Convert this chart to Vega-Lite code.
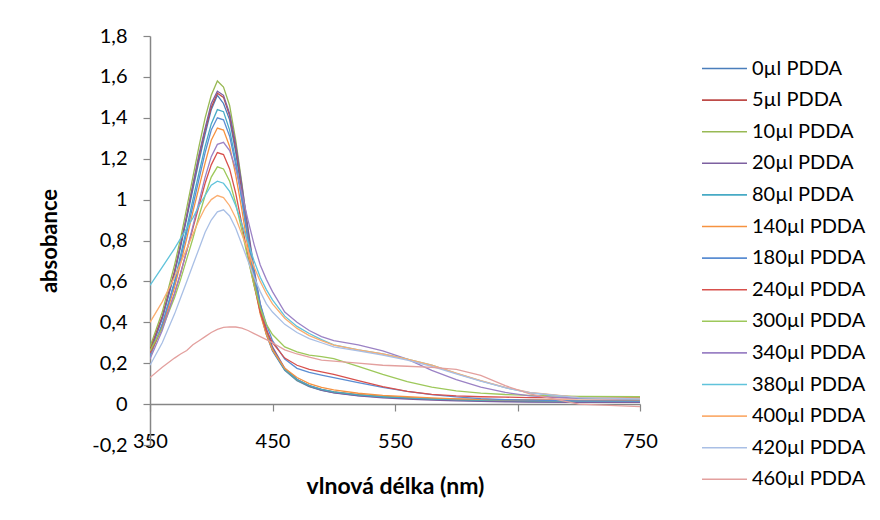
{
  "$schema": "https://vega.github.io/schema/vega-lite/v6.json",
  "width": 490,
  "height": 409,
  "autosize": {"type": "none"},
  "padding": {"left": 150, "top": 36, "right": 240, "bottom": 75},
  "background": "white",
  "config": {
    "font": "Lato",
    "view": {"stroke": null},
    "axis": {"grid": false, "domainColor": "#868686", "tickColor": "#868686", "domainWidth": 1.5, "tickWidth": 1.2, "labelColor": "#000000", "titleColor": "#000000", "labelFont": "Lato", "titleFont": "Lato"}
  },
  "data": {"values": [
{"s":"0µl PDDA","w":350,"a":0.26},{"s":"0µl PDDA","w":360,"a":0.42},{"s":"0µl PDDA","w":370,"a":0.64},{"s":"0µl PDDA","w":375,"a":0.77},{"s":"0µl PDDA","w":380,"a":0.91},{"s":"0µl PDDA","w":385,"a":1.05},{"s":"0µl PDDA","w":390,"a":1.19},{"s":"0µl PDDA","w":395,"a":1.32},{"s":"0µl PDDA","w":400,"a":1.44},{"s":"0µl PDDA","w":405,"a":1.51},{"s":"0µl PDDA","w":410,"a":1.47},{"s":"0µl PDDA","w":415,"a":1.39},{"s":"0µl PDDA","w":420,"a":1.23},{"s":"0µl PDDA","w":425,"a":1.03},{"s":"0µl PDDA","w":430,"a":0.81},{"s":"0µl PDDA","w":435,"a":0.61},{"s":"0µl PDDA","w":440,"a":0.45},{"s":"0µl PDDA","w":445,"a":0.34},{"s":"0µl PDDA","w":450,"a":0.26},{"s":"0µl PDDA","w":460,"a":0.165},{"s":"0µl PDDA","w":470,"a":0.115},{"s":"0µl PDDA","w":480,"a":0.085},{"s":"0µl PDDA","w":490,"a":0.067},{"s":"0µl PDDA","w":500,"a":0.056},{"s":"0µl PDDA","w":520,"a":0.042},{"s":"0µl PDDA","w":540,"a":0.034},{"s":"0µl PDDA","w":560,"a":0.028},{"s":"0µl PDDA","w":580,"a":0.023},{"s":"0µl PDDA","w":600,"a":0.019},{"s":"0µl PDDA","w":620,"a":0.016},{"s":"0µl PDDA","w":640,"a":0.014},{"s":"0µl PDDA","w":660,"a":0.012},{"s":"0µl PDDA","w":700,"a":0.01},{"s":"0µl PDDA","w":750,"a":0.01},
{"s":"5µl PDDA","w":350,"a":0.27},{"s":"5µl PDDA","w":360,"a":0.43},{"s":"5µl PDDA","w":370,"a":0.65},{"s":"5µl PDDA","w":375,"a":0.78},{"s":"5µl PDDA","w":380,"a":0.92},{"s":"5µl PDDA","w":385,"a":1.07},{"s":"5µl PDDA","w":390,"a":1.21},{"s":"5µl PDDA","w":395,"a":1.34},{"s":"5µl PDDA","w":400,"a":1.45},{"s":"5µl PDDA","w":405,"a":1.52},{"s":"5µl PDDA","w":410,"a":1.5},{"s":"5µl PDDA","w":415,"a":1.41},{"s":"5µl PDDA","w":420,"a":1.25},{"s":"5µl PDDA","w":425,"a":1.05},{"s":"5µl PDDA","w":430,"a":0.83},{"s":"5µl PDDA","w":435,"a":0.63},{"s":"5µl PDDA","w":440,"a":0.46},{"s":"5µl PDDA","w":445,"a":0.35},{"s":"5µl PDDA","w":450,"a":0.27},{"s":"5µl PDDA","w":460,"a":0.17},{"s":"5µl PDDA","w":470,"a":0.12},{"s":"5µl PDDA","w":480,"a":0.09},{"s":"5µl PDDA","w":490,"a":0.072},{"s":"5µl PDDA","w":500,"a":0.06},{"s":"5µl PDDA","w":520,"a":0.046},{"s":"5µl PDDA","w":540,"a":0.038},{"s":"5µl PDDA","w":560,"a":0.032},{"s":"5µl PDDA","w":580,"a":0.027},{"s":"5µl PDDA","w":600,"a":0.024},{"s":"5µl PDDA","w":620,"a":0.022},{"s":"5µl PDDA","w":640,"a":0.02},{"s":"5µl PDDA","w":660,"a":0.019},{"s":"5µl PDDA","w":700,"a":0.018},{"s":"5µl PDDA","w":750,"a":0.018},
{"s":"10µl PDDA","w":350,"a":0.28},{"s":"10µl PDDA","w":360,"a":0.45},{"s":"10µl PDDA","w":370,"a":0.68},{"s":"10µl PDDA","w":375,"a":0.81},{"s":"10µl PDDA","w":380,"a":0.96},{"s":"10µl PDDA","w":385,"a":1.11},{"s":"10µl PDDA","w":390,"a":1.26},{"s":"10µl PDDA","w":395,"a":1.4},{"s":"10µl PDDA","w":400,"a":1.51},{"s":"10µl PDDA","w":405,"a":1.58},{"s":"10µl PDDA","w":410,"a":1.55},{"s":"10µl PDDA","w":415,"a":1.46},{"s":"10µl PDDA","w":420,"a":1.29},{"s":"10µl PDDA","w":425,"a":1.08},{"s":"10µl PDDA","w":430,"a":0.85},{"s":"10µl PDDA","w":435,"a":0.64},{"s":"10µl PDDA","w":440,"a":0.47},{"s":"10µl PDDA","w":445,"a":0.355},{"s":"10µl PDDA","w":450,"a":0.27},{"s":"10µl PDDA","w":460,"a":0.17},{"s":"10µl PDDA","w":470,"a":0.118},{"s":"10µl PDDA","w":480,"a":0.088},{"s":"10µl PDDA","w":490,"a":0.07},{"s":"10µl PDDA","w":500,"a":0.058},{"s":"10µl PDDA","w":520,"a":0.044},{"s":"10µl PDDA","w":540,"a":0.036},{"s":"10µl PDDA","w":560,"a":0.03},{"s":"10µl PDDA","w":580,"a":0.025},{"s":"10µl PDDA","w":600,"a":0.022},{"s":"10µl PDDA","w":620,"a":0.019},{"s":"10µl PDDA","w":640,"a":0.017},{"s":"10µl PDDA","w":660,"a":0.016},{"s":"10µl PDDA","w":700,"a":0.015},{"s":"10µl PDDA","w":750,"a":0.015},
{"s":"20µl PDDA","w":350,"a":0.25},{"s":"20µl PDDA","w":360,"a":0.42},{"s":"20µl PDDA","w":370,"a":0.64},{"s":"20µl PDDA","w":375,"a":0.78},{"s":"20µl PDDA","w":380,"a":0.92},{"s":"20µl PDDA","w":385,"a":1.07},{"s":"20µl PDDA","w":390,"a":1.22},{"s":"20µl PDDA","w":395,"a":1.35},{"s":"20µl PDDA","w":400,"a":1.47},{"s":"20µl PDDA","w":405,"a":1.53},{"s":"20µl PDDA","w":410,"a":1.51},{"s":"20µl PDDA","w":415,"a":1.42},{"s":"20µl PDDA","w":420,"a":1.27},{"s":"20µl PDDA","w":425,"a":1.07},{"s":"20µl PDDA","w":430,"a":0.86},{"s":"20µl PDDA","w":435,"a":0.66},{"s":"20µl PDDA","w":440,"a":0.49},{"s":"20µl PDDA","w":445,"a":0.37},{"s":"20µl PDDA","w":450,"a":0.28},{"s":"20µl PDDA","w":460,"a":0.175},{"s":"20µl PDDA","w":470,"a":0.12},{"s":"20µl PDDA","w":480,"a":0.088},{"s":"20µl PDDA","w":490,"a":0.068},{"s":"20µl PDDA","w":500,"a":0.055},{"s":"20µl PDDA","w":520,"a":0.04},{"s":"20µl PDDA","w":540,"a":0.031},{"s":"20µl PDDA","w":560,"a":0.025},{"s":"20µl PDDA","w":580,"a":0.02},{"s":"20µl PDDA","w":600,"a":0.016},{"s":"20µl PDDA","w":620,"a":0.013},{"s":"20µl PDDA","w":640,"a":0.011},{"s":"20µl PDDA","w":660,"a":0.01},{"s":"20µl PDDA","w":700,"a":0.008},{"s":"20µl PDDA","w":750,"a":0.008},
{"s":"80µl PDDA","w":350,"a":0.23},{"s":"80µl PDDA","w":360,"a":0.39},{"s":"80µl PDDA","w":370,"a":0.6},{"s":"80µl PDDA","w":375,"a":0.73},{"s":"80µl PDDA","w":380,"a":0.86},{"s":"80µl PDDA","w":385,"a":1.0},{"s":"80µl PDDA","w":390,"a":1.13},{"s":"80µl PDDA","w":395,"a":1.26},{"s":"80µl PDDA","w":400,"a":1.37},{"s":"80µl PDDA","w":405,"a":1.44},{"s":"80µl PDDA","w":410,"a":1.43},{"s":"80µl PDDA","w":415,"a":1.34},{"s":"80µl PDDA","w":420,"a":1.19},{"s":"80µl PDDA","w":425,"a":1.0},{"s":"80µl PDDA","w":430,"a":0.8},{"s":"80µl PDDA","w":435,"a":0.61},{"s":"80µl PDDA","w":440,"a":0.45},{"s":"80µl PDDA","w":445,"a":0.345},{"s":"80µl PDDA","w":450,"a":0.265},{"s":"80µl PDDA","w":460,"a":0.17},{"s":"80µl PDDA","w":470,"a":0.12},{"s":"80µl PDDA","w":480,"a":0.09},{"s":"80µl PDDA","w":490,"a":0.072},{"s":"80µl PDDA","w":500,"a":0.06},{"s":"80µl PDDA","w":520,"a":0.045},{"s":"80µl PDDA","w":540,"a":0.036},{"s":"80µl PDDA","w":560,"a":0.03},{"s":"80µl PDDA","w":580,"a":0.025},{"s":"80µl PDDA","w":600,"a":0.022},{"s":"80µl PDDA","w":620,"a":0.02},{"s":"80µl PDDA","w":640,"a":0.018},{"s":"80µl PDDA","w":660,"a":0.017},{"s":"80µl PDDA","w":700,"a":0.016},{"s":"80µl PDDA","w":750,"a":0.016},
{"s":"140µl PDDA","w":350,"a":0.24},{"s":"140µl PDDA","w":360,"a":0.38},{"s":"140µl PDDA","w":370,"a":0.57},{"s":"140µl PDDA","w":375,"a":0.69},{"s":"140µl PDDA","w":380,"a":0.81},{"s":"140µl PDDA","w":385,"a":0.94},{"s":"140µl PDDA","w":390,"a":1.06},{"s":"140µl PDDA","w":395,"a":1.18},{"s":"140µl PDDA","w":400,"a":1.29},{"s":"140µl PDDA","w":405,"a":1.35},{"s":"140µl PDDA","w":410,"a":1.34},{"s":"140µl PDDA","w":415,"a":1.26},{"s":"140µl PDDA","w":420,"a":1.12},{"s":"140µl PDDA","w":425,"a":0.95},{"s":"140µl PDDA","w":430,"a":0.76},{"s":"140µl PDDA","w":435,"a":0.59},{"s":"140µl PDDA","w":440,"a":0.44},{"s":"140µl PDDA","w":445,"a":0.34},{"s":"140µl PDDA","w":450,"a":0.265},{"s":"140µl PDDA","w":460,"a":0.175},{"s":"140µl PDDA","w":470,"a":0.13},{"s":"140µl PDDA","w":480,"a":0.1},{"s":"140µl PDDA","w":490,"a":0.082},{"s":"140µl PDDA","w":500,"a":0.07},{"s":"140µl PDDA","w":520,"a":0.053},{"s":"140µl PDDA","w":540,"a":0.043},{"s":"140µl PDDA","w":560,"a":0.036},{"s":"140µl PDDA","w":580,"a":0.03},{"s":"140µl PDDA","w":600,"a":0.026},{"s":"140µl PDDA","w":620,"a":0.023},{"s":"140µl PDDA","w":640,"a":0.021},{"s":"140µl PDDA","w":660,"a":0.02},{"s":"140µl PDDA","w":700,"a":0.018},{"s":"140µl PDDA","w":750,"a":0.018},
{"s":"180µl PDDA","w":350,"a":0.24},{"s":"180µl PDDA","w":360,"a":0.39},{"s":"180µl PDDA","w":370,"a":0.59},{"s":"180µl PDDA","w":375,"a":0.71},{"s":"180µl PDDA","w":380,"a":0.84},{"s":"180µl PDDA","w":385,"a":0.97},{"s":"180µl PDDA","w":390,"a":1.1},{"s":"180µl PDDA","w":395,"a":1.23},{"s":"180µl PDDA","w":400,"a":1.34},{"s":"180µl PDDA","w":405,"a":1.4},{"s":"180µl PDDA","w":410,"a":1.39},{"s":"180µl PDDA","w":415,"a":1.31},{"s":"180µl PDDA","w":420,"a":1.17},{"s":"180µl PDDA","w":425,"a":1.0},{"s":"180µl PDDA","w":430,"a":0.81},{"s":"180µl PDDA","w":435,"a":0.64},{"s":"180µl PDDA","w":440,"a":0.49},{"s":"180µl PDDA","w":445,"a":0.39},{"s":"180µl PDDA","w":450,"a":0.31},{"s":"180µl PDDA","w":460,"a":0.22},{"s":"180µl PDDA","w":470,"a":0.175},{"s":"180µl PDDA","w":480,"a":0.155},{"s":"180µl PDDA","w":490,"a":0.142},{"s":"180µl PDDA","w":500,"a":0.13},{"s":"180µl PDDA","w":520,"a":0.105},{"s":"180µl PDDA","w":540,"a":0.082},{"s":"180µl PDDA","w":560,"a":0.062},{"s":"180µl PDDA","w":580,"a":0.046},{"s":"180µl PDDA","w":600,"a":0.035},{"s":"180µl PDDA","w":620,"a":0.027},{"s":"180µl PDDA","w":640,"a":0.022},{"s":"180µl PDDA","w":660,"a":0.019},{"s":"180µl PDDA","w":700,"a":0.016},{"s":"180µl PDDA","w":750,"a":0.015},
{"s":"240µl PDDA","w":350,"a":0.25},{"s":"240µl PDDA","w":360,"a":0.37},{"s":"240µl PDDA","w":370,"a":0.54},{"s":"240µl PDDA","w":375,"a":0.64},{"s":"240µl PDDA","w":380,"a":0.75},{"s":"240µl PDDA","w":385,"a":0.86},{"s":"240µl PDDA","w":390,"a":0.97},{"s":"240µl PDDA","w":395,"a":1.08},{"s":"240µl PDDA","w":400,"a":1.17},{"s":"240µl PDDA","w":405,"a":1.23},{"s":"240µl PDDA","w":410,"a":1.22},{"s":"240µl PDDA","w":415,"a":1.15},{"s":"240µl PDDA","w":420,"a":1.03},{"s":"240µl PDDA","w":425,"a":0.88},{"s":"240µl PDDA","w":430,"a":0.72},{"s":"240µl PDDA","w":435,"a":0.58},{"s":"240µl PDDA","w":440,"a":0.45},{"s":"240µl PDDA","w":445,"a":0.36},{"s":"240µl PDDA","w":450,"a":0.3},{"s":"240µl PDDA","w":460,"a":0.225},{"s":"240µl PDDA","w":470,"a":0.19},{"s":"240µl PDDA","w":480,"a":0.17},{"s":"240µl PDDA","w":490,"a":0.158},{"s":"240µl PDDA","w":500,"a":0.145},{"s":"240µl PDDA","w":520,"a":0.115},{"s":"240µl PDDA","w":540,"a":0.085},{"s":"240µl PDDA","w":560,"a":0.062},{"s":"240µl PDDA","w":580,"a":0.048},{"s":"240µl PDDA","w":600,"a":0.04},{"s":"240µl PDDA","w":620,"a":0.036},{"s":"240µl PDDA","w":640,"a":0.034},{"s":"240µl PDDA","w":660,"a":0.032},{"s":"240µl PDDA","w":700,"a":0.03},{"s":"240µl PDDA","w":750,"a":0.03},
{"s":"300µl PDDA","w":350,"a":0.26},{"s":"300µl PDDA","w":360,"a":0.37},{"s":"300µl PDDA","w":370,"a":0.52},{"s":"300µl PDDA","w":375,"a":0.61},{"s":"300µl PDDA","w":380,"a":0.71},{"s":"300µl PDDA","w":385,"a":0.81},{"s":"300µl PDDA","w":390,"a":0.92},{"s":"300µl PDDA","w":395,"a":1.02},{"s":"300µl PDDA","w":400,"a":1.11},{"s":"300µl PDDA","w":405,"a":1.16},{"s":"300µl PDDA","w":410,"a":1.15},{"s":"300µl PDDA","w":415,"a":1.09},{"s":"300µl PDDA","w":420,"a":0.98},{"s":"300µl PDDA","w":425,"a":0.85},{"s":"300µl PDDA","w":430,"a":0.71},{"s":"300µl PDDA","w":435,"a":0.58},{"s":"300µl PDDA","w":440,"a":0.47},{"s":"300µl PDDA","w":445,"a":0.39},{"s":"300µl PDDA","w":450,"a":0.34},{"s":"300µl PDDA","w":460,"a":0.28},{"s":"300µl PDDA","w":470,"a":0.255},{"s":"300µl PDDA","w":480,"a":0.24},{"s":"300µl PDDA","w":490,"a":0.232},{"s":"300µl PDDA","w":500,"a":0.222},{"s":"300µl PDDA","w":520,"a":0.185},{"s":"300µl PDDA","w":540,"a":0.145},{"s":"300µl PDDA","w":560,"a":0.11},{"s":"300µl PDDA","w":580,"a":0.083},{"s":"300µl PDDA","w":600,"a":0.065},{"s":"300µl PDDA","w":620,"a":0.054},{"s":"300µl PDDA","w":640,"a":0.047},{"s":"300µl PDDA","w":660,"a":0.043},{"s":"300µl PDDA","w":700,"a":0.038},{"s":"300µl PDDA","w":750,"a":0.036},
{"s":"340µl PDDA","w":350,"a":0.22},{"s":"340µl PDDA","w":360,"a":0.36},{"s":"340µl PDDA","w":370,"a":0.54},{"s":"340µl PDDA","w":375,"a":0.64},{"s":"340µl PDDA","w":380,"a":0.75},{"s":"340µl PDDA","w":385,"a":0.87},{"s":"340µl PDDA","w":390,"a":0.99},{"s":"340µl PDDA","w":395,"a":1.11},{"s":"340µl PDDA","w":400,"a":1.21},{"s":"340µl PDDA","w":405,"a":1.27},{"s":"340µl PDDA","w":410,"a":1.28},{"s":"340µl PDDA","w":415,"a":1.24},{"s":"340µl PDDA","w":420,"a":1.15},{"s":"340µl PDDA","w":425,"a":1.03},{"s":"340µl PDDA","w":430,"a":0.9},{"s":"340µl PDDA","w":435,"a":0.78},{"s":"340µl PDDA","w":440,"a":0.68},{"s":"340µl PDDA","w":445,"a":0.61},{"s":"340µl PDDA","w":450,"a":0.55},{"s":"340µl PDDA","w":460,"a":0.45},{"s":"340µl PDDA","w":470,"a":0.4},{"s":"340µl PDDA","w":480,"a":0.36},{"s":"340µl PDDA","w":490,"a":0.33},{"s":"340µl PDDA","w":500,"a":0.31},{"s":"340µl PDDA","w":520,"a":0.29},{"s":"340µl PDDA","w":540,"a":0.26},{"s":"340µl PDDA","w":560,"a":0.22},{"s":"340µl PDDA","w":580,"a":0.165},{"s":"340µl PDDA","w":600,"a":0.12},{"s":"340µl PDDA","w":620,"a":0.083},{"s":"340µl PDDA","w":640,"a":0.057},{"s":"340µl PDDA","w":660,"a":0.04},{"s":"340µl PDDA","w":700,"a":0.028},{"s":"340µl PDDA","w":750,"a":0.025},
{"s":"380µl PDDA","w":350,"a":0.58},{"s":"380µl PDDA","w":360,"a":0.67},{"s":"380µl PDDA","w":370,"a":0.76},{"s":"380µl PDDA","w":375,"a":0.81},{"s":"380µl PDDA","w":380,"a":0.86},{"s":"380µl PDDA","w":385,"a":0.91},{"s":"380µl PDDA","w":390,"a":0.97},{"s":"380µl PDDA","w":395,"a":1.02},{"s":"380µl PDDA","w":400,"a":1.07},{"s":"380µl PDDA","w":405,"a":1.09},{"s":"380µl PDDA","w":410,"a":1.08},{"s":"380µl PDDA","w":415,"a":1.04},{"s":"380µl PDDA","w":420,"a":0.97},{"s":"380µl PDDA","w":425,"a":0.88},{"s":"380µl PDDA","w":430,"a":0.79},{"s":"380µl PDDA","w":435,"a":0.7},{"s":"380µl PDDA","w":440,"a":0.62},{"s":"380µl PDDA","w":445,"a":0.56},{"s":"380µl PDDA","w":450,"a":0.51},{"s":"380µl PDDA","w":460,"a":0.43},{"s":"380µl PDDA","w":470,"a":0.38},{"s":"380µl PDDA","w":480,"a":0.345},{"s":"380µl PDDA","w":490,"a":0.315},{"s":"380µl PDDA","w":500,"a":0.29},{"s":"380µl PDDA","w":520,"a":0.265},{"s":"380µl PDDA","w":540,"a":0.245},{"s":"380µl PDDA","w":560,"a":0.22},{"s":"380µl PDDA","w":580,"a":0.19},{"s":"380µl PDDA","w":600,"a":0.15},{"s":"380µl PDDA","w":620,"a":0.113},{"s":"380µl PDDA","w":640,"a":0.08},{"s":"380µl PDDA","w":660,"a":0.055},{"s":"380µl PDDA","w":700,"a":0.032},{"s":"380µl PDDA","w":750,"a":0.026},
{"s":"400µl PDDA","w":350,"a":0.4},{"s":"400µl PDDA","w":360,"a":0.5},{"s":"400µl PDDA","w":370,"a":0.62},{"s":"400µl PDDA","w":375,"a":0.69},{"s":"400µl PDDA","w":380,"a":0.76},{"s":"400µl PDDA","w":385,"a":0.83},{"s":"400µl PDDA","w":390,"a":0.9},{"s":"400µl PDDA","w":395,"a":0.96},{"s":"400µl PDDA","w":400,"a":1.0},{"s":"400µl PDDA","w":405,"a":1.02},{"s":"400µl PDDA","w":410,"a":1.01},{"s":"400µl PDDA","w":415,"a":0.97},{"s":"400µl PDDA","w":420,"a":0.91},{"s":"400µl PDDA","w":425,"a":0.83},{"s":"400µl PDDA","w":430,"a":0.75},{"s":"400µl PDDA","w":435,"a":0.67},{"s":"400µl PDDA","w":440,"a":0.6},{"s":"400µl PDDA","w":445,"a":0.54},{"s":"400µl PDDA","w":450,"a":0.49},{"s":"400µl PDDA","w":460,"a":0.42},{"s":"400µl PDDA","w":470,"a":0.37},{"s":"400µl PDDA","w":480,"a":0.335},{"s":"400µl PDDA","w":490,"a":0.31},{"s":"400µl PDDA","w":500,"a":0.288},{"s":"400µl PDDA","w":520,"a":0.265},{"s":"400µl PDDA","w":540,"a":0.245},{"s":"400µl PDDA","w":560,"a":0.22},{"s":"400µl PDDA","w":580,"a":0.19},{"s":"400µl PDDA","w":600,"a":0.152},{"s":"400µl PDDA","w":620,"a":0.115},{"s":"400µl PDDA","w":640,"a":0.082},{"s":"400µl PDDA","w":660,"a":0.057},{"s":"400µl PDDA","w":700,"a":0.033},{"s":"400µl PDDA","w":750,"a":0.027},
{"s":"420µl PDDA","w":350,"a":0.19},{"s":"420µl PDDA","w":360,"a":0.3},{"s":"420µl PDDA","w":370,"a":0.44},{"s":"420µl PDDA","w":375,"a":0.52},{"s":"420µl PDDA","w":380,"a":0.6},{"s":"420µl PDDA","w":385,"a":0.68},{"s":"420µl PDDA","w":390,"a":0.76},{"s":"420µl PDDA","w":395,"a":0.84},{"s":"420µl PDDA","w":400,"a":0.9},{"s":"420µl PDDA","w":405,"a":0.94},{"s":"420µl PDDA","w":410,"a":0.95},{"s":"420µl PDDA","w":415,"a":0.92},{"s":"420µl PDDA","w":420,"a":0.86},{"s":"420µl PDDA","w":425,"a":0.78},{"s":"420µl PDDA","w":430,"a":0.7},{"s":"420µl PDDA","w":435,"a":0.62},{"s":"420µl PDDA","w":440,"a":0.55},{"s":"420µl PDDA","w":445,"a":0.49},{"s":"420µl PDDA","w":450,"a":0.45},{"s":"420µl PDDA","w":460,"a":0.39},{"s":"420µl PDDA","w":470,"a":0.35},{"s":"420µl PDDA","w":480,"a":0.32},{"s":"420µl PDDA","w":490,"a":0.3},{"s":"420µl PDDA","w":500,"a":0.28},{"s":"420µl PDDA","w":520,"a":0.26},{"s":"420µl PDDA","w":540,"a":0.24},{"s":"420µl PDDA","w":560,"a":0.215},{"s":"420µl PDDA","w":580,"a":0.185},{"s":"420µl PDDA","w":600,"a":0.148},{"s":"420µl PDDA","w":620,"a":0.112},{"s":"420µl PDDA","w":640,"a":0.08},{"s":"420µl PDDA","w":660,"a":0.056},{"s":"420µl PDDA","w":700,"a":0.032},{"s":"420µl PDDA","w":750,"a":0.026},
{"s":"460µl PDDA","w":350,"a":0.13},{"s":"460µl PDDA","w":360,"a":0.18},{"s":"460µl PDDA","w":370,"a":0.225},{"s":"460µl PDDA","w":375,"a":0.245},{"s":"460µl PDDA","w":380,"a":0.262},{"s":"460µl PDDA","w":385,"a":0.29},{"s":"460µl PDDA","w":390,"a":0.31},{"s":"460µl PDDA","w":395,"a":0.33},{"s":"460µl PDDA","w":400,"a":0.35},{"s":"460µl PDDA","w":405,"a":0.365},{"s":"460µl PDDA","w":410,"a":0.375},{"s":"460µl PDDA","w":415,"a":0.378},{"s":"460µl PDDA","w":420,"a":0.377},{"s":"460µl PDDA","w":425,"a":0.372},{"s":"460µl PDDA","w":430,"a":0.36},{"s":"460µl PDDA","w":435,"a":0.345},{"s":"460µl PDDA","w":440,"a":0.33},{"s":"460µl PDDA","w":445,"a":0.315},{"s":"460µl PDDA","w":450,"a":0.3},{"s":"460µl PDDA","w":460,"a":0.265},{"s":"460µl PDDA","w":470,"a":0.245},{"s":"460µl PDDA","w":480,"a":0.23},{"s":"460µl PDDA","w":490,"a":0.215},{"s":"460µl PDDA","w":500,"a":0.21},{"s":"460µl PDDA","w":520,"a":0.2},{"s":"460µl PDDA","w":540,"a":0.19},{"s":"460µl PDDA","w":560,"a":0.185},{"s":"460µl PDDA","w":580,"a":0.18},{"s":"460µl PDDA","w":600,"a":0.17},{"s":"460µl PDDA","w":620,"a":0.14},{"s":"460µl PDDA","w":640,"a":0.09},{"s":"460µl PDDA","w":660,"a":0.05},{"s":"460µl PDDA","w":700,"a":0.0},{"s":"460µl PDDA","w":750,"a":-0.012}
  ]},
  "mark": {"type": "line", "strokeWidth": 1.3, "clip": true},
  "encoding": {
    "x": {"field": "w", "type": "quantitative",
      "scale": {"domain": [350, 750], "nice": false, "zero": false},
      "axis": {"values": [350, 450, 550, 650, 750], "format": "d", "offset": -41, "tickSize": 7, "labelPadding": 20, "labelFontSize": 20, "labelFlush": false, "labelOverlap": false, "title": "vlnová délka (nm)", "titleFontSize": 23, "titleFontWeight": "bold", "titlePadding": 24}},
    "y": {"field": "a", "type": "quantitative",
      "scale": {"domain": [-0.2, 1.8], "nice": false, "zero": false},
      "axis": {"values": [-0.2, 0, 0.2, 0.4, 0.6, 0.8, 1, 1.2, 1.4, 1.6, 1.8], "labelExpr": "replace(replace(format(datum.value, '.1~f'), '.', ','), '\u2212', '-')", "tickSize": 7, "labelPadding": 16, "labelFontSize": 20, "labelFlush": false, "labelOverlap": false, "title": "absobance", "titleFontSize": 22, "titleFontWeight": "bold", "titlePadding": 30}},
    "color": {"field": "s", "type": "nominal",
      "scale": {"domain": ["0µl PDDA","5µl PDDA","10µl PDDA","20µl PDDA","80µl PDDA","140µl PDDA","180µl PDDA","240µl PDDA","300µl PDDA","340µl PDDA","380µl PDDA","400µl PDDA","420µl PDDA","460µl PDDA"],
        "range": ["#4A7EBB","#BE4B48","#98B954","#7D60A0","#46AAC5","#F69240","#5A8DD2","#D8504C","#9DC85A","#9B82C5","#60C3DB","#FBAE70","#A9BFE5","#E3A09E"]},
      "legend": {"title": null, "orient": "none", "legendX": 562, "legendY": 20, "symbolType": "M-2,0H2", "symbolSize": 506, "symbolStrokeWidth": 1.6, "labelFontSize": 20, "labelFont": "Lato", "labelColor": "#000000", "labelOffset": 15, "rowPadding": 8.6, "labelLimit": 0}}
  }
}
